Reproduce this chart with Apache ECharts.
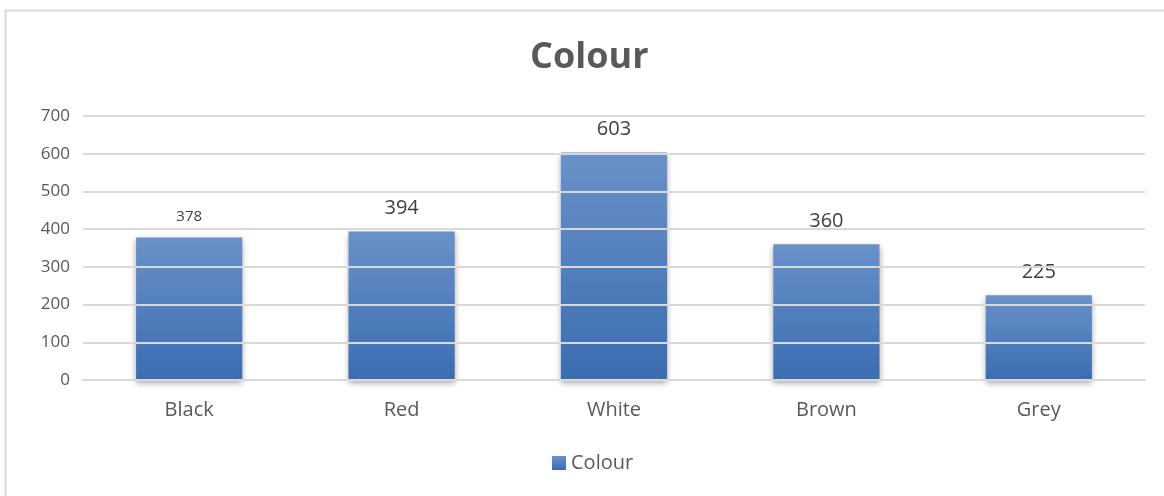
<!DOCTYPE html>
<html>
<head>
<meta charset="utf-8">
<script src="https://cdn.jsdelivr.net/npm/echarts@6/dist/echarts.min.js"></script>
<style>
  html, body { margin: 0; padding: 0; background: #ffffff; }
  #chart { width: 1164px; height: 496px; }
</style>
</head>
<body>
<div id="chart"></div>
<script>
// Counts per colour
const categories = ['Black', 'Red', 'White', 'Brown', 'Grey'];
const values = [378, 394, 603, 360, 225];
const labelSizes = [15, 20, 20, 20, 20];
const seriesName = 'Colour';

const FONT = '"Open Sans", "Noto Sans", sans-serif';
const barFill = new echarts.graphic.LinearGradient(0, 0, 0, 1, [
  { offset: 0, color: '#6a91c9' },
  { offset: 1, color: '#3a6db1' }
]);

const chart = echarts.init(document.getElementById('chart'), null, { renderer: 'canvas' });
chart.setOption({
  backgroundColor: '#ffffff',
  animation: false,
  graphic: [{
    type: 'rect',
    shape: { x: 5.5, y: 10.5, width: 1200, height: 520 },
    style: { fill: 'none', stroke: '#d9d9d9', lineWidth: 2 },
    silent: true
  }],
  title: {
    text: 'Colour',
    left: 525,
    top: 35,
    textStyle: { fontFamily: FONT, fontSize: 36, fontWeight: 'bold', color: '#595959' }
  },
  legend: {
    data: [seriesName],
    bottom: 18,
    left: 547,
    itemWidth: 14,
    itemHeight: 14,
    itemGap: 4,
    icon: 'rect',
    textStyle: { fontFamily: FONT, fontSize: 20, color: '#595959', padding: [0, 0, 0, 0] }
  },
  grid: { left: 83, right: 19, top: 116, bottom: 116, containLabel: false },
  xAxis: {
    type: 'category',
    data: categories,
    axisLine: { show: true, lineStyle: { color: '#d9d9d9', width: 2 } },
    axisTick: { show: false },
    axisLabel: { fontFamily: FONT, fontSize: 20, color: '#595959', margin: 20 }
  },
  yAxis: {
    type: 'value',
    min: 0,
    max: 700,
    interval: 100,
    z: 5,
    axisLine: { show: false },
    axisTick: { show: false },
    axisLabel: { fontFamily: FONT, fontSize: 17, color: '#595959', margin: 13 },
    splitLine: { show: true, lineStyle: { color: '#d9d9d9', width: 2 } }
  },
  series: [{
    name: seriesName,
    type: 'bar',
    barWidth: '50%',
    data: values.map((v, i) => ({
      value: v,
      label: { fontSize: labelSizes[i] }
    })),
    itemStyle: {
      color: barFill,
      shadowColor: 'rgba(0,0,0,0.35)',
      shadowBlur: 6,
      shadowOffsetY: 3
    },
    label: {
      show: true,
      position: 'top',
      distance: 13,
      fontFamily: FONT,
      color: '#404040'
    }
  }]
});
</script>
</body>
</html>
